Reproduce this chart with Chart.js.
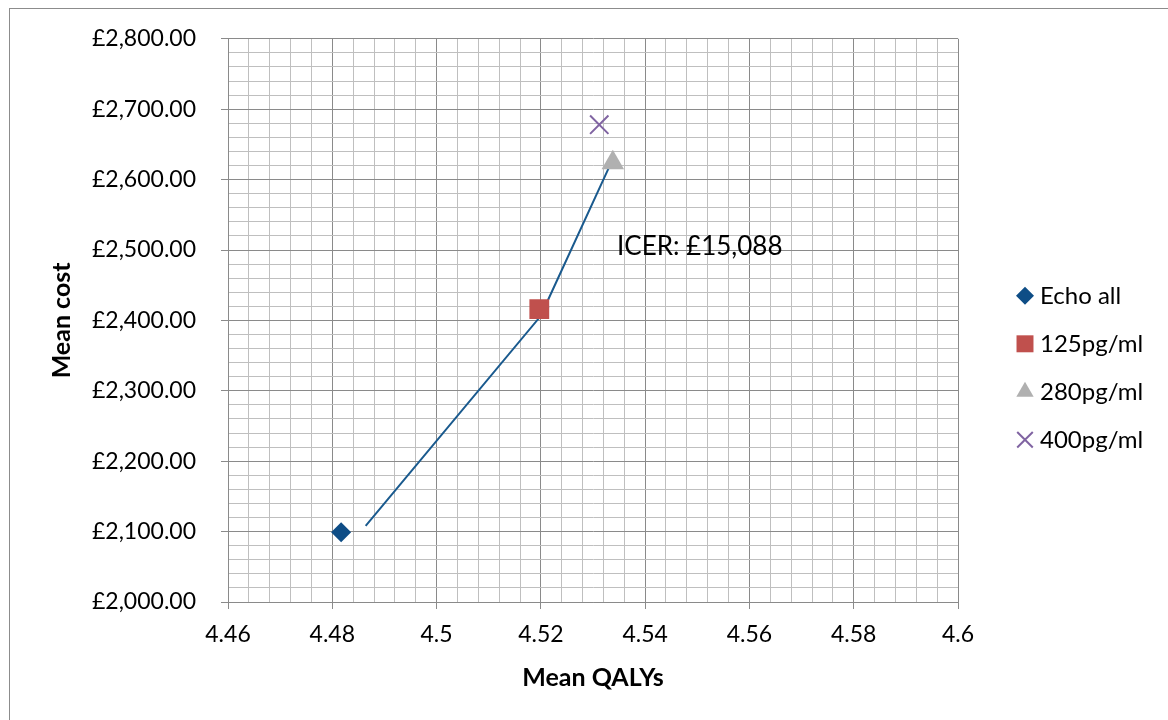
<!DOCTYPE html>
<html>
<head>
<meta charset="utf-8">
<script src="https://cdn.jsdelivr.net/npm/chart.js@4"></script>
<style>
  html, body { margin: 0; padding: 0; background: #fff; overflow: hidden; }
  #frame { position: absolute; left: 9px; top: 8px; width: 1200px; height: 800px; border: 1px solid #8c8c8c; pointer-events: none; }
  canvas { position: absolute; left: 0; top: 0; }
</style>
</head>
<body>
<canvas id="chart" width="1168" height="720"></canvas>
<div id="frame"></div>
<script>
// values
const seriesNames = ["Echo all", "125pg/ml", "280pg/ml", "400pg/ml"];
const meanQalys = [4.4817, 4.5197, 4.5338, 4.5312];
const meanCosts = [2099, 2416, 2624, 2678];
const seriesColors = ["#0e4d86", "#c0504d", "#b0b0b0", "#8064a2"];
const seriesShapes = ["rectRot", "rect", "triangle", "crossRot"];

// hand drawn ICER line
const lineQalys = [4.4864, 4.5214, 4.5210, 4.5336];
const lineCosts = [2108, 2419, 2423, 2626];
const icerText = "ICER: £15,088";
const icerAt = [4.5346, 2505];

const xTicks = [4.46, 4.48, 4.5, 4.52, 4.54, 4.56, 4.58, 4.6];
const yTicks = [2000, 2100, 2200, 2300, 2400, 2500, 2600, 2700, 2800];
const minorSteps = 5;

const FONT = "Lato";
const MAJOR = "#8a8a8a";
const MINOR = "#bfbfbf";

function withMinor(major) {
  const out = [];
  for (let i = 0; i < major.length; i++) {
    out.push({ value: major[i], major: true });
    if (i < major.length - 1) {
      for (let k = 1; k < minorSteps; k++) {
        out.push({ value: major[i] + (major[i + 1] - major[i]) * k / minorSteps, major: false });
      }
    }
  }
  return out;
}

const plotRadius = [10, 14, 13, 13];
const legendRadius = [9, 12, 10, 11];

const datasets = seriesNames.map((name, i) => ({
  label: name,
  data: [{ x: meanQalys[i], y: meanCosts[i] }],
  pointStyle: seriesShapes[i],
  pointRadius: plotRadius[i],
  pointHoverRadius: plotRadius[i],
  backgroundColor: seriesColors[i],
  borderColor: seriesColors[i],
  borderWidth: seriesShapes[i] === "crossRot" ? 2 : 0,
}));

datasets.push({
  label: "line",
  data: lineQalys.map((q, i) => ({ x: q, y: lineCosts[i] })),
  showLine: true,
  pointRadius: 0,
  borderColor: "#1a5a8e",
  borderWidth: 2,
  tension: 0,
});

const gridOpts = {
  color: (c) => (c.tick && c.tick.major ? MAJOR : MINOR),
  tickColor: (c) => (c.tick && c.tick.major ? MAJOR : "rgba(0,0,0,0)"),
  tickLength: 7,
  lineWidth: 1,
};

const sideLegend = {
  id: "sideLegend",
  afterDraw(chart) {
    const ctx = chart.ctx;
    const area = chart.chartArea;
    ctx.save();
    ctx.font = "24px " + FONT;
    ctx.textBaseline = "middle";
    ctx.textAlign = "left";
    seriesNames.forEach((name, i) => {
      const y = area.top + 257 + i * 48;
      const x = area.right + 67;
      ctx.fillStyle = seriesColors[i];
      ctx.strokeStyle = seriesColors[i];
      ctx.lineWidth = 2;
      Chart.helpers.drawPoint(ctx, {
        pointStyle: seriesShapes[i],
        radius: legendRadius[i],
        rotation: 0,
        borderWidth: seriesShapes[i] === "crossRot" ? 2 : 0,
      }, x, y);
      ctx.fillStyle = "#000";
      ctx.fillText(name, x + 15, y);
    });
    ctx.restore();
  },
};

const icerLabel = {
  id: "icerLabel",
  afterDatasetsDraw(chart) {
    const ctx = chart.ctx;
    const x = chart.scales.x.getPixelForValue(icerAt[0]);
    const y = chart.scales.y.getPixelForValue(icerAt[1]);
    ctx.save();
    ctx.font = "26px " + FONT;
    ctx.fillStyle = "#000";
    ctx.textBaseline = "middle";
    ctx.textAlign = "left";
    ctx.fillText(icerText, x, y);
    ctx.restore();
  },
};

new Chart(document.getElementById("chart"), {
  type: "scatter",
  data: { datasets },
  plugins: [sideLegend, icerLabel],
  options: {
    responsive: false,
    animation: false,
    devicePixelRatio: 1,
    layout: { padding: { left: 40, right: 210, top: 38, bottom: 20 } },
    plugins: { legend: { display: false }, tooltip: { enabled: false } },
    scales: {
      x: {
        type: "linear",
        min: 4.46,
        max: 4.6,
        afterBuildTicks: (s) => { s.ticks = withMinor(xTicks); },
        afterFit: (s) => { s.height = 98; },
        grid: gridOpts,
        border: { color: MAJOR },
        ticks: {
          autoSkip: false,
          maxRotation: 0,
          minRotation: 0,
          padding: 12,
          color: "#000",
          font: { family: FONT, size: 23 },
          callback: (v, i, t) => (t[i].major ? String(+v.toFixed(3)) : ""),
        },
        title: {
          display: true,
          text: "Mean QALYs",
          color: "#000",
          font: { family: FONT, size: 25, weight: "bold" },
          padding: { top: 0, bottom: 7 },
        },
      },
      y: {
        type: "linear",
        min: 2000,
        max: 2800,
        afterBuildTicks: (s) => { s.ticks = withMinor(yTicks); },
        afterFit: (s) => { s.width = 188; },
        grid: gridOpts,
        border: { color: MAJOR },
        ticks: {
          autoSkip: false,
          padding: 25,
          color: "#000",
          font: { family: FONT, size: 23 },
          callback: (v, i, t) => (t[i].major
            ? "£" + v.toLocaleString("en-GB", { minimumFractionDigits: 2, maximumFractionDigits: 2 })
            : ""),
        },
        title: {
          display: true,
          text: "Mean cost",
          color: "#000",
          font: { family: FONT, size: 25, weight: "bold" },
          padding: { top: 7, bottom: 0 },
        },
      },
    },
  },
});
</script>
</body>
</html>
